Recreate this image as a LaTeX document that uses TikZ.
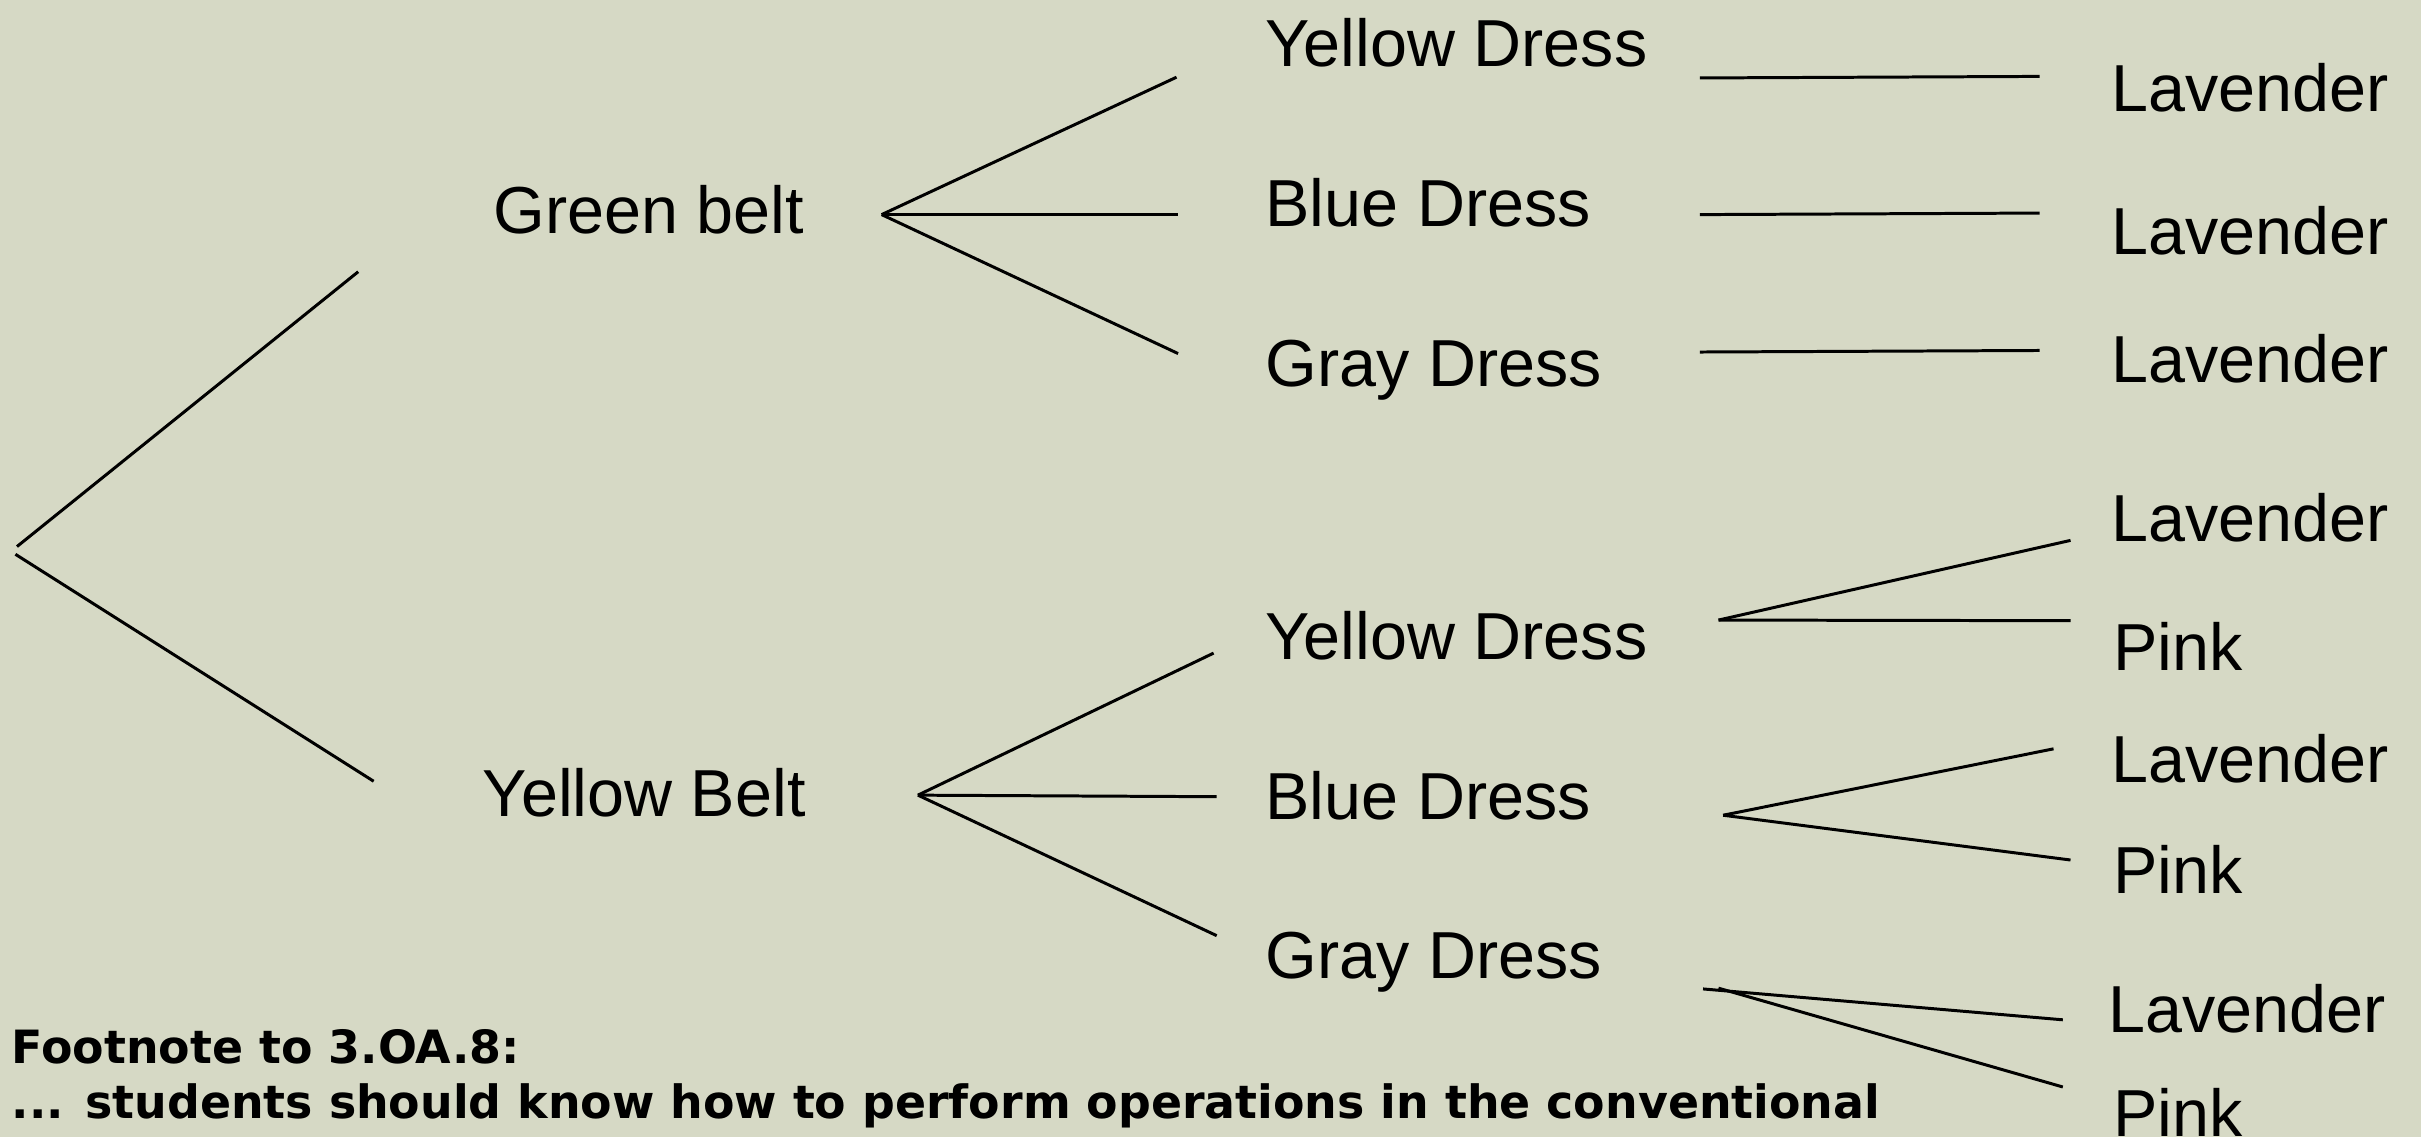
\documentclass[tikz,border=0pt]{standalone}
\usepackage{fontspec}
\setmainfont{Liberation Sans}
\newfontfamily\notefont{DejaVu Sans}
\usepackage{tikz}
\definecolor{slide}{HTML}{D6D9C5}

\begin{document}
\begin{tikzpicture}[yscale=-1]
      \tikzstyle branch=[black, line width=0.55pt]
      \tikzstyle choice=[anchor=base west, inner sep=0pt,
      font=\fontsize{12.25}{14}\selectfont]
      \tikzstyle note=[anchor=base west, inner sep=0pt,
      font=\notefont\bfseries\fontsize{8.45}{10}\selectfont]
      \fill [slide] (0,0) rectangle (15.68,7.364);
      \useasboundingbox (0,0) rectangle (15.68,7.364);
      % belts
      \node [choice] (gb) at (3.19,1.51) {Green belt};
      \node [choice] (yb) at (3.12,5.29) {Yellow Belt};
      % dresses
      \node [choice] (gy) at (8.19,0.43) {Yellow Dress};
      \node [choice] (gbl) at (8.19,1.47) {Blue Dress};
      \node [choice] (gg) at (8.19,2.505) {Gray Dress};
      \node [choice] (yy) at (8.19,4.27) {Yellow Dress};
      \node [choice] (ybl) at (8.19,5.31) {Blue Dress};
      \node [choice] (yg) at (8.19,6.34) {Gray Dress};
      % ribbons
      \node [choice] (l1) at (13.67,0.72) {Lavender};
      \node [choice] (l2) at (13.67,1.65) {Lavender};
      \node [choice] (l3) at (13.67,2.48) {Lavender};
      \node [choice] (l4) at (13.67,3.51) {Lavender};
      \node [choice] (p4) at (13.68,4.34) {Pink};
      \node [choice] (l5) at (13.67,5.07) {Lavender};
      \node [choice] (p5) at (13.68,5.79) {Pink};
      \node [choice] (l6) at (13.65,6.69) {Lavender};
      \node [choice] (p6) at (13.68,7.36) {Pink};
      % footnote
      \node [note] (fn1) at (0.07,6.885) {Footnote to 3.OA.8:};
      \node [note] (fn2) at (0.07,7.247)
      {... students should know how to perform operations in the conventional};
      % line ends
      \coordinate (r1) at (0.11,3.54);
      \coordinate (r2) at (0.10,3.59);
      \coordinate (gbt) at (2.32,1.76);
      \coordinate (ybt) at (2.42,5.06);
      \coordinate (gbs) at (5.71,1.39);
      \coordinate (gyt) at (7.62,0.50);
      \coordinate (gblt) at (7.63,1.39);
      \coordinate (ggt) at (7.63,2.29);
      \coordinate (ybs) at (5.945,5.15);
      \coordinate (yyt) at (7.86,4.23);
      \coordinate (yblt) at (7.88,5.16);
      \coordinate (ygt) at (7.88,6.06);
      \coordinate (gys) at (11.01,0.505);
      \coordinate (l1t) at (13.21,0.495);
      \coordinate (gbls) at (11.01,1.39);
      \coordinate (l2t) at (13.21,1.38);
      \coordinate (ggs) at (11.01,2.28);
      \coordinate (l3t) at (13.21,2.27);
      \coordinate (yys) at (11.13,4.016);
      \coordinate (l4t) at (13.41,3.50);
      \coordinate (p4t) at (13.41,4.02);
      \coordinate (ybls) at (11.16,5.28);
      \coordinate (l5t) at (13.30,4.85);
      \coordinate (p5t) at (13.41,5.57);
      \coordinate (ygs) at (11.03,6.405);
      \coordinate (ygs2) at (11.13,6.40);
      \coordinate (l6t) at (13.36,6.605);
      \coordinate (p6t) at (13.36,7.04);
      % branches
      \draw [branch] (r1) -- (gbt);
      \draw [branch] (r2) -- (ybt);
      \draw [branch] (gbs) -- (gyt);
      \draw [branch] (gbs) -- (gblt);
      \draw [branch] (gbs) -- (ggt);
      \draw [branch] (ybs) -- (yyt);
      \draw [branch] (ybs) -- (yblt);
      \draw [branch] (ybs) -- (ygt);
      \draw [branch] (gys) -- (l1t);
      \draw [branch] (gbls) -- (l2t);
      \draw [branch] (ggs) -- (l3t);
      \draw [branch] (yys) -- (l4t);
      \draw [branch] (yys) -- (p4t);
      \draw [branch] (ybls) -- (l5t);
      \draw [branch] (ybls) -- (p5t);
      \draw [branch] (ygs) -- (l6t);
      \draw [branch] (ygs2) -- (p6t);
\end{tikzpicture}
\end{document}
